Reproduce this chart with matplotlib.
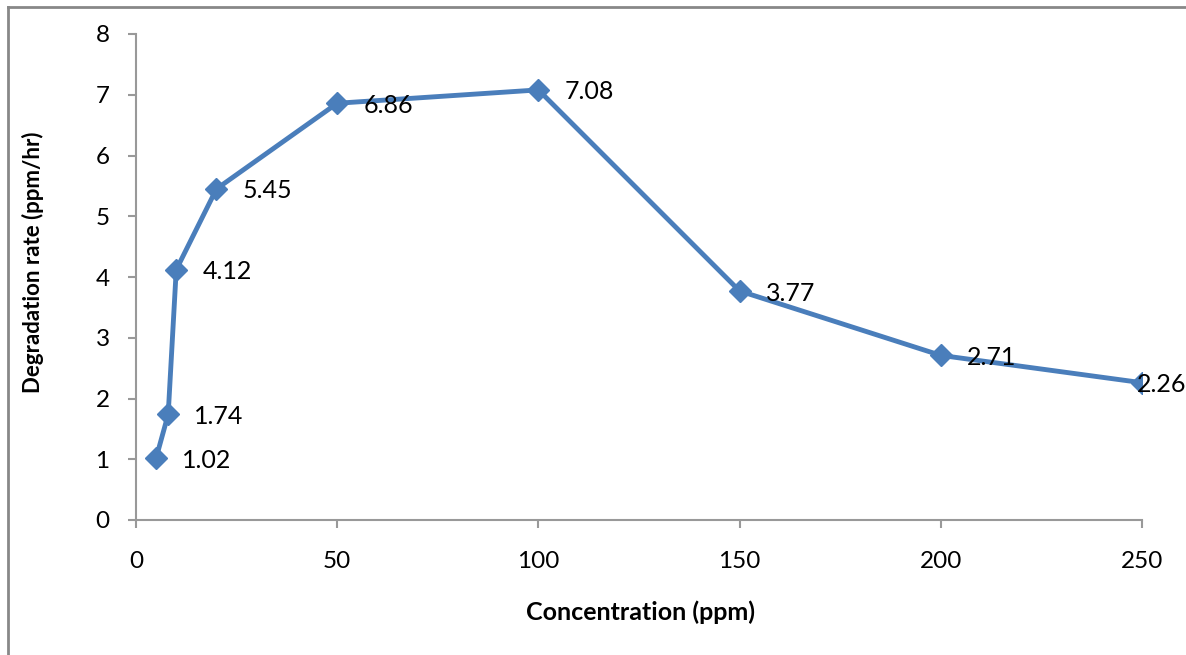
import matplotlib
matplotlib.use("Agg")
import matplotlib.pyplot as plt
from matplotlib.lines import Line2D

conc = [5, 8, 10, 20, 50, 100, 150, 200, 250]
rate = [1.02, 1.74, 4.12, 5.45, 6.86, 7.08, 3.77, 2.71, 2.26]
xticks = [0, 50, 100, 150, 200, 250]
yticks = [0, 1, 2, 3, 4, 5, 6, 7, 8]

plt.rcParams['font.family'] = ['Lato', 'DejaVu Sans']

fig = plt.figure(figsize=(11.86, 6.55), dpi=100)
ax = fig.add_axes([136/1186, 1-520/655, (1142-136)/1186, (520-34)/655])

blue = '#4A7EBB'
ax.plot(conc, rate, color=blue, lw=3.5, marker='D', markersize=11,
        markerfacecolor=blue, markeredgecolor=blue, solid_joinstyle='round')

for i, (x, y) in enumerate(zip(conc, rate)):
    dx = 26 if i < len(conc) - 1 else -5
    ax.annotate(f"{y:.2f}", (x, y), xytext=(dx * 0.72, -1.5), textcoords='offset points',
                ha='left', va='center', fontsize=18, color='black')

ax.set_xlim(0, 250)
ax.set_ylim(0, 8)
ax.set_xticks(xticks)
ax.set_yticks(yticks)
for s in ['top', 'right']:
    ax.spines[s].set_visible(False)
for s in ['left', 'bottom']:
    ax.spines[s].set_color('#999999')
    ax.spines[s].set_linewidth(1.5)
ax.tick_params(axis='both', colors='#999999', width=1.5, length=6, labelcolor='black', labelsize=17.5)
ax.tick_params(axis='y', pad=13)
ax.tick_params(axis='x', pad=16)

fig.text(641/1186, 1-612/655, 'Concentration (ppm)', ha='center', va='center',
         fontsize=18, fontweight='bold')
fig.text(33/1186, 1-262/655, 'Degradation rate (ppm/hr)', ha='center', va='center',
         fontsize=16, fontweight='bold', rotation=90)

fig.add_artist(Line2D([8/1186, 8/1186], [0, 1-7/655], transform=fig.transFigure,
                      color='#888888', lw=2))
fig.add_artist(Line2D([8/1186, 1], [1-7/655, 1-7/655], transform=fig.transFigure,
                      color='#888888', lw=2))

fig.savefig('out.png', dpi=100)
